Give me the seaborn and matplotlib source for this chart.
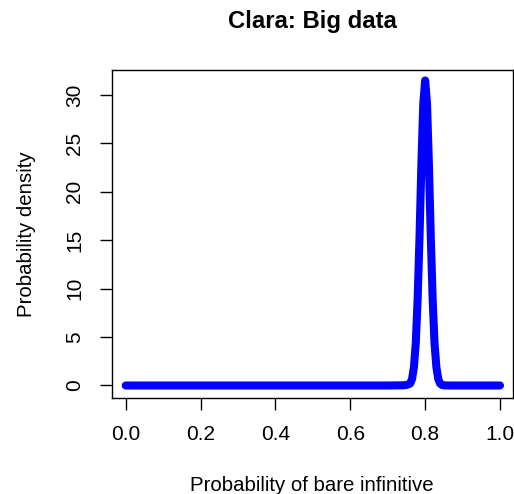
import matplotlib
matplotlib.use("Agg")
import matplotlib.pyplot as plt
import pandas as pd
import seaborn as sns

# Values (posterior density, peak at 0.80)
prob_values = [0.00, 0.10, 0.20, 0.30, 0.40, 0.50, 0.60, 0.70, 0.74, 0.75,
               0.76, 0.765, 0.77, 0.775, 0.78, 0.785, 0.79, 0.795, 0.80,
               0.805, 0.81, 0.815, 0.82, 0.825, 0.83, 0.835, 0.84, 0.845,
               0.85, 0.86, 0.90, 0.95, 1.00]
density_values = [0.0, 0.0, 0.0, 0.0, 0.0, 0.0, 0.0, 0.0, 0.02, 0.05,
                  0.2, 0.67, 1.9, 4.4, 9.0, 15.4, 22.9, 29.1, 31.5,
                  29.1, 22.9, 15.4, 9.0, 4.4, 1.9, 0.67, 0.2, 0.05,
                  0.02, 0.0, 0.0, 0.0, 0.0]
x_ticks = [0.0, 0.2, 0.4, 0.6, 0.8, 1.0]
y_ticks = [0, 5, 10, 15, 20, 25, 30]

df = pd.DataFrame({"prob": prob_values, "density": density_values})

sns.set_style("white")
plt.rcParams["font.family"] = ["Liberation Sans", "DejaVu Sans"]
plt.rcParams["text.color"] = "black"
plt.rcParams["axes.labelcolor"] = "black"
plt.rcParams["xtick.color"] = "black"
plt.rcParams["ytick.color"] = "black"

fig = plt.figure(figsize=(5.14, 4.94), dpi=100)
ax = fig.add_axes([111.7 / 514, 1 - 397.7 / 494, 401 / 514, 327.7 / 494])

sns.lineplot(data=df, x="prob", y="density", ax=ax, color="#0000FF",
             linewidth=5.8, solid_capstyle="round", solid_joinstyle="round")

ax.set_xlim(-0.0374, 1.0339)
ax.set_ylim(-1.26, 32.58)
ax.set_xticks(x_ticks)
ax.set_xticklabels([f"{t:.1f}" for t in x_ticks])
ax.set_yticks(y_ticks)
ax.set_yticklabels([str(t) for t in y_ticks], rotation=90, va="center")
ax.tick_params(axis="both", direction="out", length=8.6, width=1,
               bottom=True, left=True, labelsize=15)
ax.tick_params(axis="x", pad=11)
ax.tick_params(axis="y", pad=11)

for side in ax.spines.values():
    side.set_visible(True)
    side.set_color("black")
    side.set_linewidth(1)

ax.set_xlabel("Probability of bare infinitive", fontsize=14.7, labelpad=23)
ax.set_ylabel("Probability density", fontsize=14.7, labelpad=21)
fig.text(312 / 514, 1 - 28 / 494, "Clara: Big data", ha="center",
         va="baseline", fontsize=17.2, fontweight="bold")

fig.savefig("out.png", dpi=100)
